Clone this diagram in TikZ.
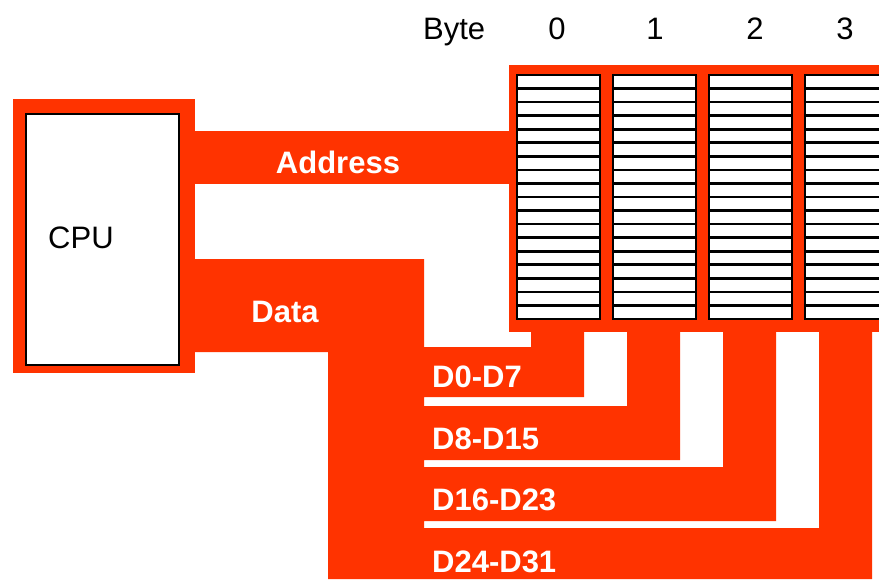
\documentclass[tikz,border=0pt]{standalone}
\usepackage{fontspec}
\setmainfont{Liberation Sans}
\usetikzlibrary{positioning}
\definecolor{busred}{HTML}{FF3300}
\tikzset{
  bus/.style={fill=busred, draw=none, inner sep=0pt, anchor=north west},
  cell/.style={draw=black, line width=2pt, fill=white},
  slot/.style={draw=black, line width=2.6pt, fill=white},
  buslabel/.style={text=white, font=\fontsize{31}{36}\selectfont\bfseries, inner sep=0pt, anchor=base west},
  toplabel/.style={font=\fontsize{31}{36}\selectfont, inner sep=0pt, anchor=base}
}

\begin{document}
\begin{tikzpicture}[x=1pt, y=-1pt]
  \useasboundingbox (0,0) rectangle (879,579);
  \clip (0,0) rectangle (879,579);

  % CPU
  \node[bus, minimum width=182pt, minimum height=274pt] (cpu) at (13,99) {};
  \node[cell, inner sep=0pt, anchor=north west, minimum width=153pt, minimum height=251pt] (core) at (25,113) {};
  \node[toplabel, anchor=base west] (cpuText) at (48,248) {CPU};

  % memory with byte columns
  \node[bus, minimum width=390pt, minimum height=267pt] (mem) at (509,65) {};
  \foreach \c in {0,...,3}
    \foreach \r in {0,...,17}
      \draw[slot] ({517+96*\c},{75+13.556*\r}) rectangle +(83,13.556);

  \node[toplabel, anchor=base west] (byteText) at (423,39) {Byte};
  \foreach \c/\x in {0/557,1/655,2/755,3/845}
    \node[toplabel] (byte\c) at (\x,39) {\c};

  % address bus
  \fill[busred] (cpu.east |- 0,131) rectangle (mem.west |- 0,184);
  \node[buslabel, anchor=base] (addrText) at (338,173) {Address};

  % data bus
  \fill[busred] (195,259) -- (424,259) -- (424,347) -- (531,347) -- (531,320)
    -- (584,320) -- (584,397) -- (424,397) -- (424,406) -- (627,406)
    -- (627,320) -- (680,320) -- (680,460) -- (424,460) -- (424,467)
    -- (723,467) -- (723,320) -- (776,320) -- (776,521) -- (424,521)
    -- (424,528) -- (819,528) -- (819,320) -- (872,320) -- (872,579)
    -- (328,579) -- (328,352) -- (195,352) -- cycle;
  \node[buslabel, anchor=base] (dataText) at (285,322) {Data};

  \node[buslabel] (lane0) at (432,387) {D0-D7};
  \node[buslabel] (lane1) at (432,449) {D8-D15};
  \node[buslabel] (lane2) at (432,510) {D16-D23};
  \node[buslabel] (lane3) at (432,572) {D24-D31};
\end{tikzpicture}
\end{document}
